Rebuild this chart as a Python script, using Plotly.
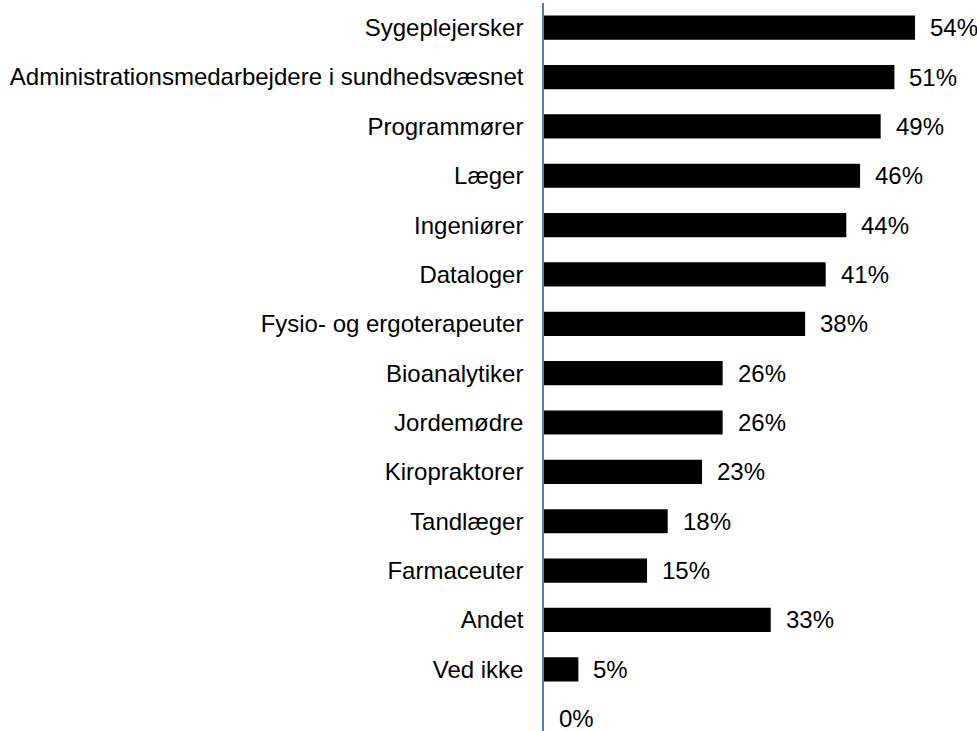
import plotly.graph_objects as go

categories = [
    "Sygeplejersker",
    "Administrationsmedarbejdere i sundhedsvæsnet",
    "Programmører",
    "Læger",
    "Ingeniører",
    "Dataloger",
    "Fysio- og ergoterapeuter",
    "Bioanalytiker",
    "Jordemødre",
    "Kiropraktorer",
    "Tandlæger",
    "Farmaceuter",
    "Andet",
    "Ved ikke",
    "Ingen af faggrupperne virker relevante",
]
values = [54, 51, 49, 46, 44, 41, 38, 26, 26, 23, 18, 15, 33, 5, 0]
value_labels = [f"{v}%" for v in values]

FONT = "Liberation Sans, Arial, sans-serif"
positions = list(range(len(categories)))

fig = go.Figure()
fig.add_trace(go.Bar(
    x=values,
    y=positions,
    orientation="h",
    marker=dict(color="black", line=dict(width=0)),
    width=0.49,
    hoverinfo="skip",
))

for p, v, lab in zip(positions, values, value_labels):
    fig.add_annotation(
        x=v, y=p, text=lab, showarrow=False,
        xanchor="left", yanchor="middle", xshift=13,
        font=dict(family=FONT, size=24, color="black"),
    )

fig.update_layout(
    width=977,
    height=731,
    margin=dict(l=544, r=7, t=3, b=0),
    paper_bgcolor="white",
    plot_bgcolor="white",
    showlegend=False,
    font=dict(family=FONT, size=24, color="black"),
    xaxis=dict(
        range=[0, 62],
        showgrid=False,
        zeroline=False,
        showticklabels=False,
        showline=False,
        ticks="",
    ),
    yaxis=dict(
        tickmode="array",
        tickvals=positions,
        ticktext=categories,
        range=[14.25, -0.5],
        showgrid=False,
        zeroline=False,
        showline=True,
        linecolor="#4a7ebb",
        linewidth=1.5,
        ticks="",
        ticklabelstandoff=14,
        tickfont=dict(family=FONT, size=24, color="black"),
    ),
)

fig.write_html(
    "out.html",
    config={"displayModeBar": False},
    post_script="document.body.style.margin='0';document.body.style.overflow='hidden';",
)
